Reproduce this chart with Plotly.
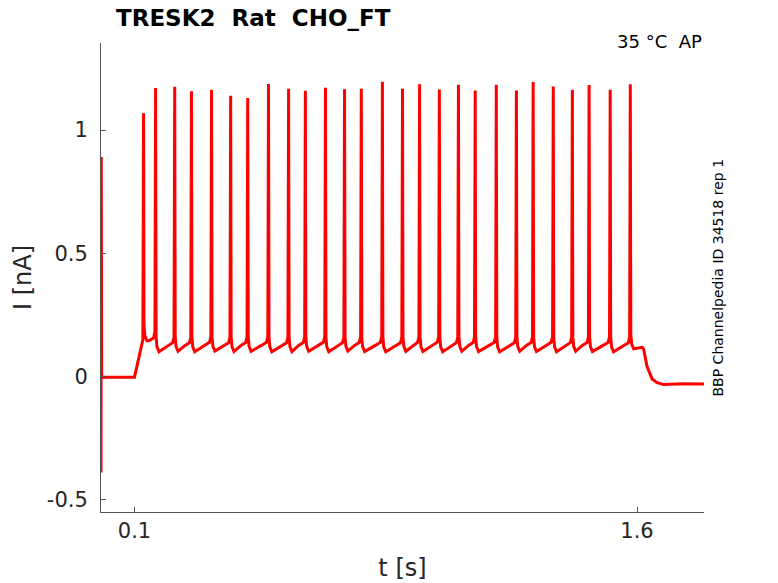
import plotly.graph_objects as go

# Valores (t em s, I em nA)
spike_t = [0.127, 0.163, 0.220, 0.270, 0.330, 0.387, 0.438, 0.500, 0.560,
           0.610, 0.670, 0.727, 0.777, 0.840, 0.900, 0.951, 1.010, 1.067,
           1.117, 1.180, 1.240, 1.290, 1.350, 1.407, 1.457, 1.520, 1.580]
spike_peak = [1.068, 1.170, 1.175, 1.157, 1.163, 1.139, 1.130, 1.187, 1.167,
              1.159, 1.171, 1.165, 1.167, 1.196, 1.167, 1.186, 1.164, 1.184,
              1.160, 1.184, 1.160, 1.195, 1.176, 1.163, 1.183, 1.163, 1.186]
# nivel logo depois de cada disparo e nivel logo antes do seguinte
trough_i = [0.145, 0.100, 0.102, 0.100, 0.103, 0.101, 0.102, 0.100, 0.101,
            0.102, 0.100, 0.103, 0.101, 0.100, 0.102, 0.101, 0.100, 0.102,
            0.101, 0.100, 0.102, 0.101, 0.100, 0.102, 0.101, 0.100, 0.112]
pre_i = [0.150, 0.145, 0.125, 0.125, 0.127, 0.125, 0.126, 0.127, 0.125,
         0.126, 0.127, 0.125, 0.126, 0.127, 0.125, 0.126, 0.127, 0.125,
         0.126, 0.127, 0.125, 0.126, 0.127, 0.125, 0.126, 0.127, 0.125]

# inicio: transiente capacitivo, linha de base e degrau
start_t = [0.0, 0.0008, 0.002, 0.100, 0.125]
start_i = [-0.39, 0.89, -0.003, -0.003, 0.150]
# fim do degrau e cauda
end_t = [1.616, 1.620, 1.630, 1.645, 1.660, 1.680, 1.740, 1.800]
end_i = [0.118, 0.110, 0.040, -0.010, -0.025, -0.033, -0.030, -0.031]

# forma de um disparo (deslocamentos em s)
shape_dt = [-0.020, -0.006, -0.002, 0.0, 0.0015, 0.004, 0.010]

t = list(start_t)
corrente = list(start_i)
for k in range(len(spike_t)):
    ts = spike_t[k]
    niveis = [pre_i[k], pre_i[k] + 0.012, pre_i[k] + 0.035, spike_peak[k],
              trough_i[k] + 0.06, trough_i[k] + 0.02, trough_i[k]]
    for dt, v in zip(shape_dt, niveis):
        if ts + dt > t[-1]:
            t.append(ts + dt)
            corrente.append(v)
t += end_t
corrente += end_i

traco1 = go.Scatter(
    x=t,
    y=corrente,
    mode="lines",
    line=dict(color="#ff0000", width=3),
    hoverinfo="skip",
    showlegend=False,
)

eixo = dict(
    showline=True, linecolor="#555555", linewidth=1,
    ticks="inside", ticklen=5, tickcolor="#555555",
    showgrid=False, zeroline=False, automargin=False,
    tickfont=dict(family="DejaVu Sans", size=21, color="#262626"),
)

layout = go.Layout(
    width=778, height=583,
    margin=dict(l=101, r=74, t=43, b=71),
    paper_bgcolor="white", plot_bgcolor="white",
    font=dict(family="DejaVu Sans", color="#262626"),
)
fig = go.Figure(data=[traco1], layout=layout)

fig.update_xaxes(eixo, range=[0, 1.8], tickvals=[0.1, 1.6], ticktext=["0.1", "1.6"],
                 title=dict(text="t [s]", font=dict(size=24), standoff=16))
fig.update_yaxes(eixo, range=[-0.55, 1.353], tickvals=[-0.5, 0, 0.5, 1],
                 ticktext=["-0.5", "0", "0.5", "1"], ticklabelstandoff=8,
                 title=dict(text="I [nA]", font=dict(size=24), standoff=8))

fig.add_annotation(text="<b>TRESK2  Rat  CHO_FT</b>", xref="paper", yref="paper",
                   x=0.021, y=1.0, yshift=40, xanchor="left", yanchor="top",
                   showarrow=False, font=dict(size=23, color="black"))
fig.add_annotation(text="35 °C  AP", xref="paper", yref="paper",
                   x=1.0, y=1.0, yshift=2, xanchor="right", yanchor="middle",
                   showarrow=False, font=dict(size=18, color="black"))
fig.add_annotation(text="BBP Channelpedia ID 34518 rep 1", xref="paper", yref="paper",
                   x=1.0, xshift=13, y=0.5, xanchor="center", yanchor="middle",
                   textangle=-90, showarrow=False, font=dict(size=14, color="black"))

fig.write_html("out.html", config={"displayModeBar": False},
               post_script="document.body.style.margin='0';")
